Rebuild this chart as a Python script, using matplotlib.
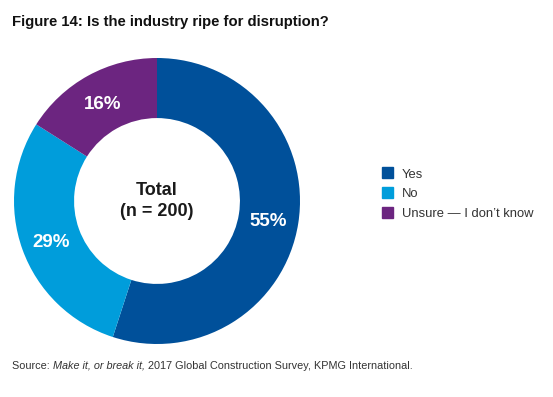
import numpy as np
import matplotlib.pyplot as plt
from matplotlib.patches import Rectangle

plt.rcParams['font.family'] = ['Liberation Sans', 'DejaVu Sans']

labels = ['Yes', 'No', 'Unsure \u2014 I don\u2019t know']
values = [55, 29, 16]
colors = ['#00509a', '#009ddb', '#6c2580']

W, H = 553, 397
fig = plt.figure(figsize=(W / 100, H / 100), dpi=100)

# donut: center (157, 201) px, outer radius 143 px
half = 145
ax = fig.add_axes([(157 - half) / W, (H - 201 - half) / H, 2 * half / W, 2 * half / H])
ax.pie(values, colors=colors, startangle=90, counterclock=False,
       radius=1, wedgeprops=dict(width=0.42, edgecolor='none'))
lim = half / 143
ax.set_xlim(-lim, lim)
ax.set_ylim(-lim, lim)
ax.set_aspect('equal')
ax.axis('off')

# percentage labels at mid ring
start = 90
for v in values:
    mid = np.deg2rad(start - v * 3.6 / 2)
    ax.text(0.79 * np.cos(mid), 0.79 * np.sin(mid) - 0.02, f'{v}%', color='white',
            fontsize=13.5, fontweight='bold', ha='center', va='center')
    start -= v * 3.6

ax.text(0, 0.0, 'Total\n(n = 200)', ha='center', va='center', fontsize=13,
        fontweight='bold', color='#1a1a1a', linespacing=1.25)

# legend
for i, (lab, c) in enumerate(zip(labels, colors)):
    y = 172.5 + i * 19.8
    fig.patches.append(Rectangle((382 / W, (H - y - 5.5) / H), 11 / W, 11 / H,
                                 transform=fig.transFigure, color=c))
    fig.text(402 / W, (H - y - 2) / H, lab, fontsize=9.4, va='center', ha='left', color='#333333')

fig.text(12 / W, (H - 22) / H, 'Figure 14: Is the industry ripe for disruption?',
         fontsize=10.7, fontweight='bold', va='center', ha='left', color='#111111')

# source line with italic title
fig.canvas.draw()
r = fig.canvas.get_renderer()
x = 12 / W
yy = (H - 366) / H
for txt, style in [('Source: ', 'normal'), ('Make it, or break it,', 'italic'),
                   (' 2017 Global Construction Survey, KPMG International.', 'normal')]:
    t = fig.text(x, yy, txt, fontsize=7.8, style=style, va='center', ha='left', color='#333333')
    bb = t.get_window_extent(renderer=r)
    x += bb.width / W

fig.savefig('out.png', dpi=100)
